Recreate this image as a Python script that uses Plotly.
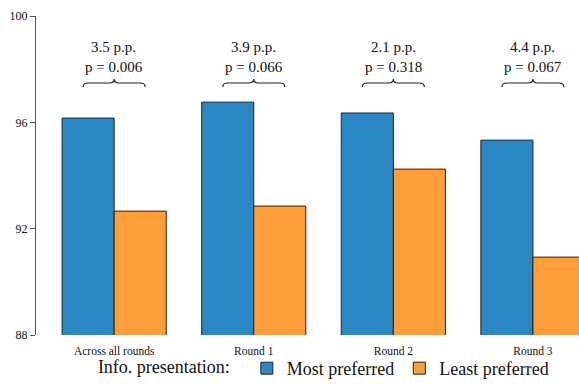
import plotly.graph_objects as go

categories = ["Across all rounds", "Round 1", "Round 2", "Round 3"]
most_preferred = [96.16, 96.76, 96.35, 95.33]
least_preferred = [92.66, 92.85, 94.24, 90.93]
diff_labels = ["3.5 p.p.", "3.9 p.p.", "2.1 p.p.", "4.4 p.p."]
p_labels = ["p = 0.006", "p = 0.066", "p = 0.318", "p = 0.067"]
y_ticks = [88, 92, 96, 100]

FONT = "Liberation Serif"
BLUE = "#2b87c3"
ORANGE = "#fd9e3a"

xs = list(range(len(categories)))

fig = go.Figure()
fig.add_trace(go.Bar(x=xs, y=most_preferred, name="Most preferred",
                     marker=dict(color=BLUE, line=dict(color="#222222", width=1))))
fig.add_trace(go.Bar(x=xs, y=least_preferred, name="Least preferred",
                     marker=dict(color=ORANGE, line=dict(color="#222222", width=1))))

# braces and annotations
w, d = 0.222, 0.035
y0, y1, y2 = 97.33, 97.48, 97.63
shapes = []
annotations = []
for c, dl, pl in zip(xs, diff_labels, p_labels):
    path = (f"M {c-w},{y0} Q {c-w},{y1} {c-w+d},{y1} L {c-d},{y1} "
            f"Q {c},{y1} {c},{y2} Q {c},{y1} {c+d},{y1} L {c+w-d},{y1} "
            f"Q {c+w},{y1} {c+w},{y0}")
    shapes.append(dict(type="path", xref="x", yref="y", path=path,
                       line=dict(color="#222222", width=1.2)))
    annotations.append(dict(x=c, y=97.71, xref="x", yref="y", text=f"{dl}<br>{pl}",
                            showarrow=False, yanchor="bottom", xanchor="center",
                            font=dict(family=FONT, size=15, color="#111111")))

fig.update_layout(
    width=579, height=387,
    margin=dict(l=36, r=0, t=16, b=52, autoexpand=False),
    paper_bgcolor="white", plot_bgcolor="white",
    barmode="group", bargap=0.254, bargroupgap=0,
    font=dict(family=FONT, color="#111111"),
    shapes=shapes, annotations=annotations,
    xaxis=dict(range=[-0.56, 3.33], tickvals=xs, ticktext=categories,
               showgrid=False, zeroline=False, showline=False,
               ticks="outside", ticklen=5, tickcolor="rgba(0,0,0,0)",
               automargin=False,
               tickfont=dict(family=FONT, size=11.5, color="#111111")),
    yaxis=dict(range=[88, 100], tickvals=y_ticks, showgrid=False, zeroline=False,
               showline=True, linecolor="#555555", linewidth=1,
               ticks="outside", ticklen=5, tickcolor="#555555", automargin=False,
               tickfont=dict(family=FONT, size=12, color="#111111")),
    legend=dict(orientation="h", x=0.532, xanchor="center",
                y=0.0, yanchor="bottom", yref="container",
                bgcolor="rgba(0,0,0,0)",
                title=dict(text="Info. presentation:  ", side="left",
                           font=dict(family=FONT, size=18)),
                font=dict(family=FONT, size=18, color="#111111")),
)

fig.write_html(
    "out.html",
    config={"displayModeBar": False},
    post_script="document.documentElement.style.overflow='hidden';"
                "document.body.style.margin='0';document.body.style.overflow='hidden';",
)
